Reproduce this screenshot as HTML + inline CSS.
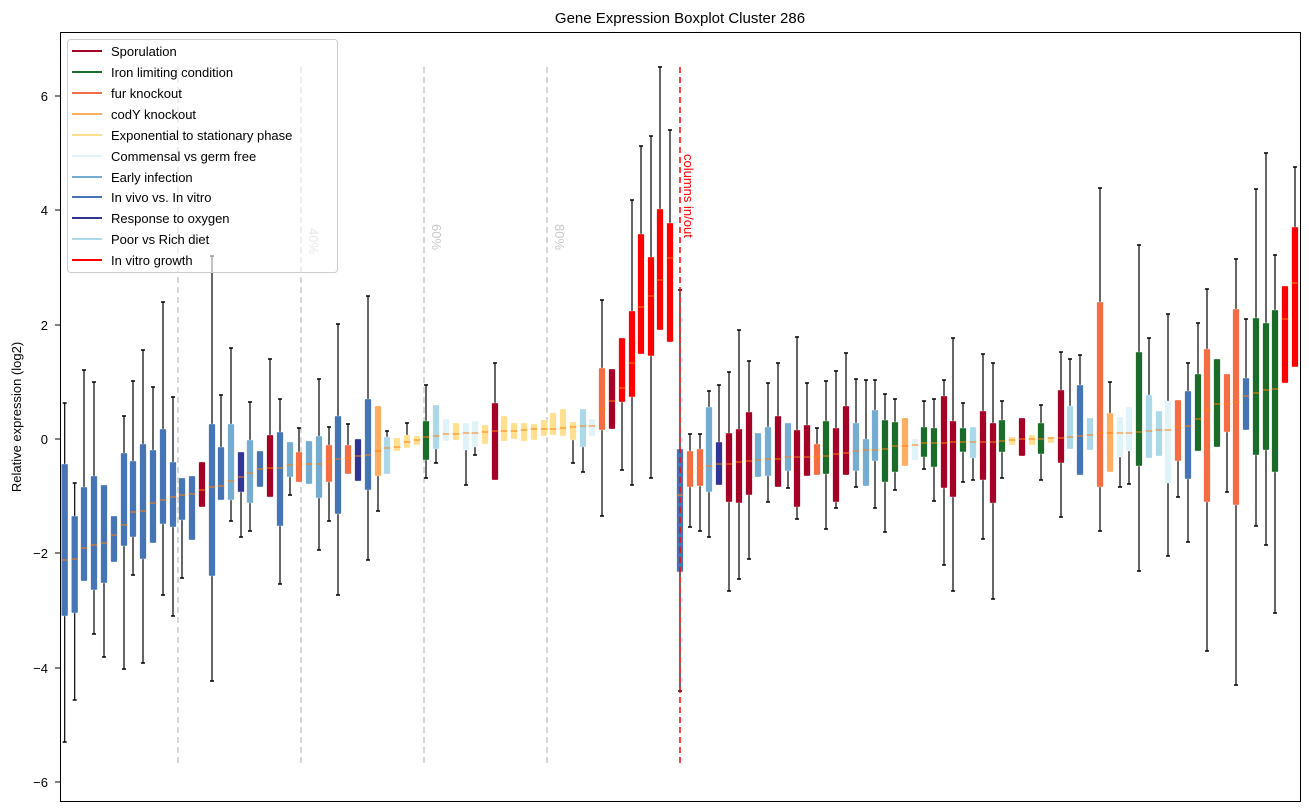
<!DOCTYPE html>
<html><head><meta charset="utf-8"><style>
html,body{margin:0;padding:0;background:#fff;}
svg{display:block;font-family:"Liberation Sans","DejaVu Sans",sans-serif;}
</style></head><body>
<svg id="s" width="1309" height="812" viewBox="0 0 1309 812" xmlns="http://www.w3.org/2000/svg">
<rect x="0" y="0" width="1309" height="812" fill="#fff"/>
<g id="grid" stroke="#c8c8c8" stroke-width="1.5" stroke-dasharray="6,4">
<line x1="178" y1="67" x2="178" y2="767"/>
<line x1="301" y1="67" x2="301" y2="767"/>
<line x1="424" y1="67" x2="424" y2="767"/>
<line x1="547" y1="67" x2="547" y2="767"/>
</g>
<g fill="#c8c8c8" font-size="13">
<text transform="translate(309,228) rotate(90)">40%</text>
<text transform="translate(432,224) rotate(90)">60%</text>
<text transform="translate(555,224) rotate(90)">80%</text>
</g>
<g id="boxes"></g>
<line x1="680" y1="67" x2="680" y2="767" stroke="#ff0000" stroke-width="1.5" stroke-dasharray="6,4"/>
<text transform="translate(684,154) rotate(90)" fill="#ff0000" font-size="13">columns in/out</text>
<rect x="60.5" y="32.5" width="1240" height="769" fill="none" stroke="#000" stroke-width="1"/>
<g font-size="13" text-anchor="end" fill="#000">
<text x="48" y="101">6</text>
<text x="48" y="215">4</text>
<text x="48" y="330">2</text>
<text x="48" y="444">0</text>
<text x="48" y="558">−2</text>
<text x="48" y="673">−4</text>
<text x="48" y="787">−6</text>
</g>
<g stroke="#000">
<line x1="55" y1="96" x2="60" y2="96"/><line x1="55" y1="210" x2="60" y2="210"/>
<line x1="55" y1="325" x2="60" y2="325"/><line x1="55" y1="439" x2="60" y2="439"/>
<line x1="55" y1="553" x2="60" y2="553"/><line x1="55" y1="668" x2="60" y2="668"/>
<line x1="55" y1="782" x2="60" y2="782"/>
</g>
<text transform="translate(21,417) rotate(-90)" text-anchor="middle" font-size="13">Relative expression (log2)</text>
<text x="680" y="23" text-anchor="middle" font-size="15">Gene Expression Boxplot Cluster 286</text>
<g>
<rect x="67.5" y="39.5" width="270" height="233" rx="3" fill="#fff" fill-opacity="0.6" stroke="#ccc"/>
<g stroke-width="2">
<line x1="72" y1="51" x2="102" y2="51" stroke="#a50026"/>
<line x1="72" y1="72" x2="102" y2="72" stroke="#1b6b2b"/>
<line x1="72" y1="93" x2="102" y2="93" stroke="#f46d43"/>
<line x1="72" y1="114" x2="102" y2="114" stroke="#fdae61"/>
<line x1="72" y1="135" x2="102" y2="135" stroke="#fee090"/>
<line x1="72" y1="156" x2="102" y2="156" stroke="#e0f3f8"/>
<line x1="72" y1="177" x2="102" y2="177" stroke="#74add1"/>
<line x1="72" y1="197" x2="102" y2="197" stroke="#4575b4"/>
<line x1="72" y1="218" x2="102" y2="218" stroke="#313695"/>
<line x1="72" y1="239" x2="102" y2="239" stroke="#abd9e9"/>
<line x1="72" y1="260" x2="102" y2="260" stroke="#ff0000"/>
</g>
<g font-size="13">
<text x="111" y="56">Sporulation</text>
<text x="111" y="77">Iron limiting condition</text>
<text x="111" y="98">fur knockout</text>
<text x="111" y="119">codY knockout</text>
<text x="111" y="140">Exponential to stationary phase</text>
<text x="111" y="161">Commensal vs germ free</text>
<text x="111" y="182">Early infection</text>
<text x="111" y="202">In vivo vs. In vitro</text>
<text x="111" y="223">Response to oxygen</text>
<text x="111" y="244">Poor vs Rich diet</text>
<text x="111" y="265">In vitro growth</text>
</g>
</g>
</svg>
<script>
var C={S:'#a50026',I:'#1b6b2b',F:'#f46d43',C:'#fdae61',X:'#fee090',V:'#e0f3f8',E:'#74add1',B:'#4575b4',N:'#313695',P:'#abd9e9',R:'#ff0000'};
var D=[
[64.7,'B',464,616,560,403,742],[74.7,'B',516,613,559,483,700],[84,'B',487,581,548,370,null],[94,'B',476,590,545,382,634],
[104,'B',485,583,543,null,657],[114,'B',516,562,535,null,null],[124,'B',453,546,525,416,669],[133,'B',461,537,512,381,575],
[143,'B',444,559,511,350,663],[153,'B',450,543,503,387,null],[163,'B',429,524,500,302,595],[173,'B',462,527,497,397,616],
[182,'B',478,520,495,null,578],[192,'B',476,540,494,null,null],[202,'S',462,507,490,null,null],[212,'B',424,576,487,256,681],
[221,'B',447,500,486,395,null],[231,'E',424,500,481,348,521],[241,'N',452,492,477,null,537],[250,'E',440,503,473,402,531],
[260,'B',451,487,469,null,null],[270,'S',435,497,468,359,null],[280,'B',432,526,468,399,584],[290,'E',442,477,465,null,495],
[299,'F',452,482,464,428,null],[309,'E',441,484,464,null,null],[319,'E',436,498,464,379,550],[329,'F',445,482,462,427,521],
[338,'B',416,514,459,324,595],[348,'F',445,474,458,424,null],[358,'N',439,481,456,null,null],[368,'B',399,490,455,296,560],
[378,'C',406,476,451,null,511],[387,'P',437,474,448,431,null],[397,'X',438,451,447,null,null],[407,'X',435,448,442,423,null],
[417,'X',436,445,440,null,null],[426,'I',421,460,437,385,478],[436,'P',405,449,436,null,463],[446,'V',419,441,434,null,null],
[456,'X',423,440,434,null,null],[466,'V',423,450,433,null,485],[475,'V',421,447,433,null,455],[485,'X',425,444,432,null,null],
[495,'S',403,480,431,363,null],[504,'X',416,441,431,null,null],[514,'X',423,439,431,null,null],[524,'X',423,441,430,null,null],
[534,'X',424,440,429,null,null],[544,'X',420,436,429,null,null],[553,'X',413,435,429,null,null],[563,'X',409,436,428,null,null],
[573,'X',422,440,427,null,463],[583,'P',409,447,426,null,472],[592,'V',419,436,426,null,null],[602,'F',368,430,409,300,516],
[612,'S',369,429,401,null,null],[622,'R',338,402,388,null,470],[632,'R',311,397,363,200,485],[641,'R',234,354,307,146,null],
[651,'R',257,356,296,136,478],[660,'R',209,330,280,67,null],[670,'R',223,342,258,130,null],
[680,'B',449,572,495,290,691],[690,'F',451,487,472,434,527],[700,'F',449,486,468,434,531],[709,'E',407,492,466,391,537],
[719,'N',442,485,464,385,null],[729,'S',433,502,464,372,591],[739,'S',429,503,462,330,579],[749,'S',412,495,461,361,559],
[758,'E',433,477,460,null,null],[768,'E',427,476,459,383,502],[778,'S',416,487,459,363,null],[788,'E',423,471,457,null,488],
[797,'S',430,507,457,337,519],[807,'S',425,476,457,383,null],[817,'F',444,475,457,428,null],[826,'I',421,474,456,381,529],
[836,'S',428,502,454,371,508],[846,'S',406,475,453,353,null],[856,'E',423,471,451,379,487],[866,'E',439,486,450,380,null],
[875,'E',410,461,450,380,508],[885,'I',420,482,449,394,532],[895,'I',422,472,446,399,490],[905,'C',418,466,446,null,null],
[915,'V',439,460,445,null,null],[924,'I',427,457,443,401,469],[934,'I',428,467,443,399,501],[944,'S',396,488,443,380,565],
[953,'S',421,497,442,338,591],[963,'I',428,452,442,403,482],[973,'P',427,458,442,null,480],[983,'S',411,480,442,354,539],
[993,'S',423,503,442,363,599],[1002,'I',420,452,441,401,478],[1012,'X',437,445,440,null,null],[1022,'S',418,456,439,null,null],
[1032,'X',435,445,439,null,null],[1041,'I',423,454,439,405,480],[1051,'X',437,443,438,null,null],[1061,'S',390,463,438,352,517],
[1070,'P',406,449,437,359,null],[1080,'B',385,475,436,355,null],[1090,'P',418,450,435,null,null],[1100,'F',302,487,433,188,531],
[1110,'C',413,472,433,382,null],[1120,'V',417,457,433,null,487],[1129,'V',407,451,433,null,484],[1139,'I',352,466,432,245,571],
[1149,'P',395,458,431,338,null],[1159,'P',411,456,430,null,null],[1168,'V',401,483,430,314,556],[1178,'F',400,461,427,null,497],
[1188,'B',391,479,426,363,542],[1198,'I',374,451,419,323,null],[1207,'F',349,502,410,289,651],[1217,'I',359,447,404,null,null],
[1227,'F',374,432,404,null,492],[1236,'F',309,505,402,259,685],[1246,'B',378,430,396,319,null],[1256,'I',318,455,393,189,526],
[1266,'I',323,450,390,153,545],[1275,'I',310,472,389,255,613],[1285,'R',286,383,319,null,null],[1295,'R',227,367,283,167,null]
];
var h='';
D.forEach(function(d){
 var x=d[0],c=C[d[1]],q3=d[2],q1=d[3],m=d[4],hi=d[5],lo=d[6];
 if(hi!==null){h+='<line x1="'+x+'" y1="'+hi+'" x2="'+x+'" y2="'+q3+'" stroke="#000" stroke-width="1.2"/><line x1="'+(x-2)+'" y1="'+hi+'" x2="'+(x+2)+'" y2="'+hi+'" stroke="#000" stroke-width="1.5"/>';}
 if(lo!==null){h+='<line x1="'+x+'" y1="'+q1+'" x2="'+x+'" y2="'+lo+'" stroke="#000" stroke-width="1.2"/><line x1="'+(x-2)+'" y1="'+lo+'" x2="'+(x+2)+'" y2="'+lo+'" stroke="#000" stroke-width="1.5"/>';}
 h+='<rect x="'+(x-3.3)+'" y="'+q3+'" width="6.6" height="'+Math.max(q1-q3,1)+'" rx="1" fill="'+c+'" stroke="#fff" stroke-opacity="0.6" stroke-width="0.6"/>';
 h+='<line x1="'+(x-3.3)+'" y1="'+m+'" x2="'+(x+3.3)+'" y2="'+m+'" stroke="#ff7f0e" stroke-width="1"/>';
});
document.getElementById('boxes').innerHTML=h;
</script>
</body></html>
